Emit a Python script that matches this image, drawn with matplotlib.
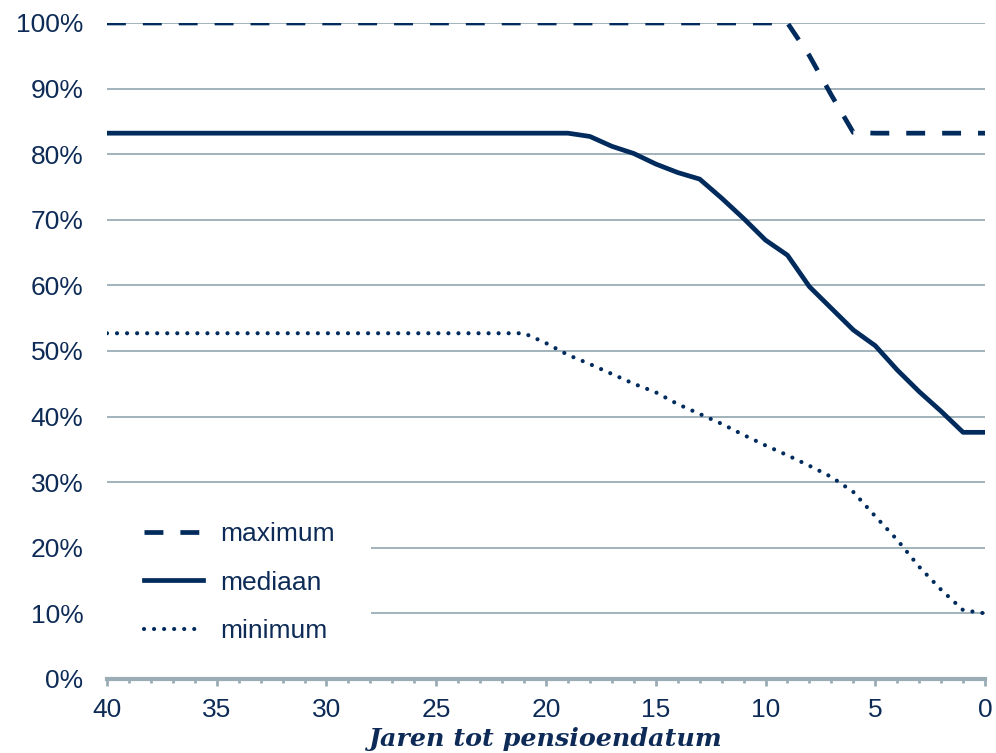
import matplotlib.pyplot as plt
from matplotlib.ticker import FuncFormatter, MultipleLocator

# jaren tot pensioendatum
jaren = list(range(40, -1, -1))

# maximum: 100% tot 9 jaar, daarna afbouw naar ~83%
maximum = [100.0] * 32 + [95.0, 89.0, 83.3, 83.2, 83.2, 83.2, 83.2, 83.2, 83.2]

# mediaan
mediaan = [83.2] * 22 + [82.7, 81.2, 80.1, 78.5, 77.2, 76.2, 73.3, 70.2, 66.9, 64.6,
                         59.8, 56.5, 53.2, 50.8, 47.1, 43.8, 40.8, 37.6, 37.6]

# minimum
minimum = [52.7] * 20 + [51.2, 49.4, 48.0, 46.5, 45.0, 43.7, 41.9, 40.4, 38.9,
                         37.2, 35.6, 34.1, 32.5, 30.8, 28.5, 24.8, 21.2, 17.1, 13.6,
                         10.5, 10.0]

navy = '#002B5C'
grid_col = '#9AADB6'
label_col = '#0D2B56'

fig = plt.figure(figsize=(9.96, 7.53), dpi=100)
ax = fig.add_axes([0.1074, 0.0983, 0.8816, 0.8712])

ax.plot(jaren, maximum, color=navy, lw=3.4, dashes=(4.0, 3.6), label='maximum', zorder=3)
ax.plot(jaren, mediaan, color=navy, lw=3.4, label='mediaan', zorder=3)
ax.plot(jaren, minimum, color=navy, lw=3.0, dashes=(0.01, 2.4), dash_capstyle='round',
        label='minimum', zorder=3)

ax.set_xlim(40, 0)
ax.set_ylim(0, 100)
ax.yaxis.set_major_locator(MultipleLocator(10))
ax.yaxis.set_major_formatter(FuncFormatter(lambda v, p: '%d%%' % v))
ax.xaxis.set_major_locator(MultipleLocator(5))
ax.xaxis.set_minor_locator(MultipleLocator(1))
ax.grid(axis='y', color=grid_col, lw=1.3, zorder=0)

for s in ['top', 'right', 'left']:
    ax.spines[s].set_visible(False)
ax.spines['bottom'].set_color(grid_col)
ax.spines['bottom'].set_linewidth(3)
# x-as boven de legenda tekenen
ax.spines['bottom'].set_zorder(5)
ax.xaxis.set_zorder(5)

ax.tick_params(axis='y', length=0, pad=17, labelsize=19, labelcolor=label_col)
ax.tick_params(axis='x', which='major', length=5, width=2, color=grid_col,
               labelsize=19, labelcolor=label_col, pad=9)
ax.tick_params(axis='x', which='minor', length=3, width=2, color=grid_col)
for t in ax.get_xticklabels() + ax.get_yticklabels():
    t.set_fontfamily('Liberation Sans')

ax.set_xlabel('Jaren tot pensioendatum', family='DejaVu Serif', weight='bold',
              style='italic', fontsize=18.3, color=label_col, labelpad=3)

leg = ax.legend(loc='upper left', bbox_to_anchor=(0.0, 0.296), frameon=True,
                handlelength=2.24, handletextpad=0.64, labelspacing=0.94,
                prop={'family': 'Liberation Sans', 'size': 19}, borderpad=1.4,
                borderaxespad=0)
leg.get_frame().set_facecolor('white')
leg.get_frame().set_edgecolor('none')
leg.get_frame().set_alpha(1)
leg.get_frame().set_boxstyle('square', pad=0)
leg.set_zorder(4)
for t in leg.get_texts():
    t.set_color(label_col)

fig.savefig('out.png', dpi=100)
